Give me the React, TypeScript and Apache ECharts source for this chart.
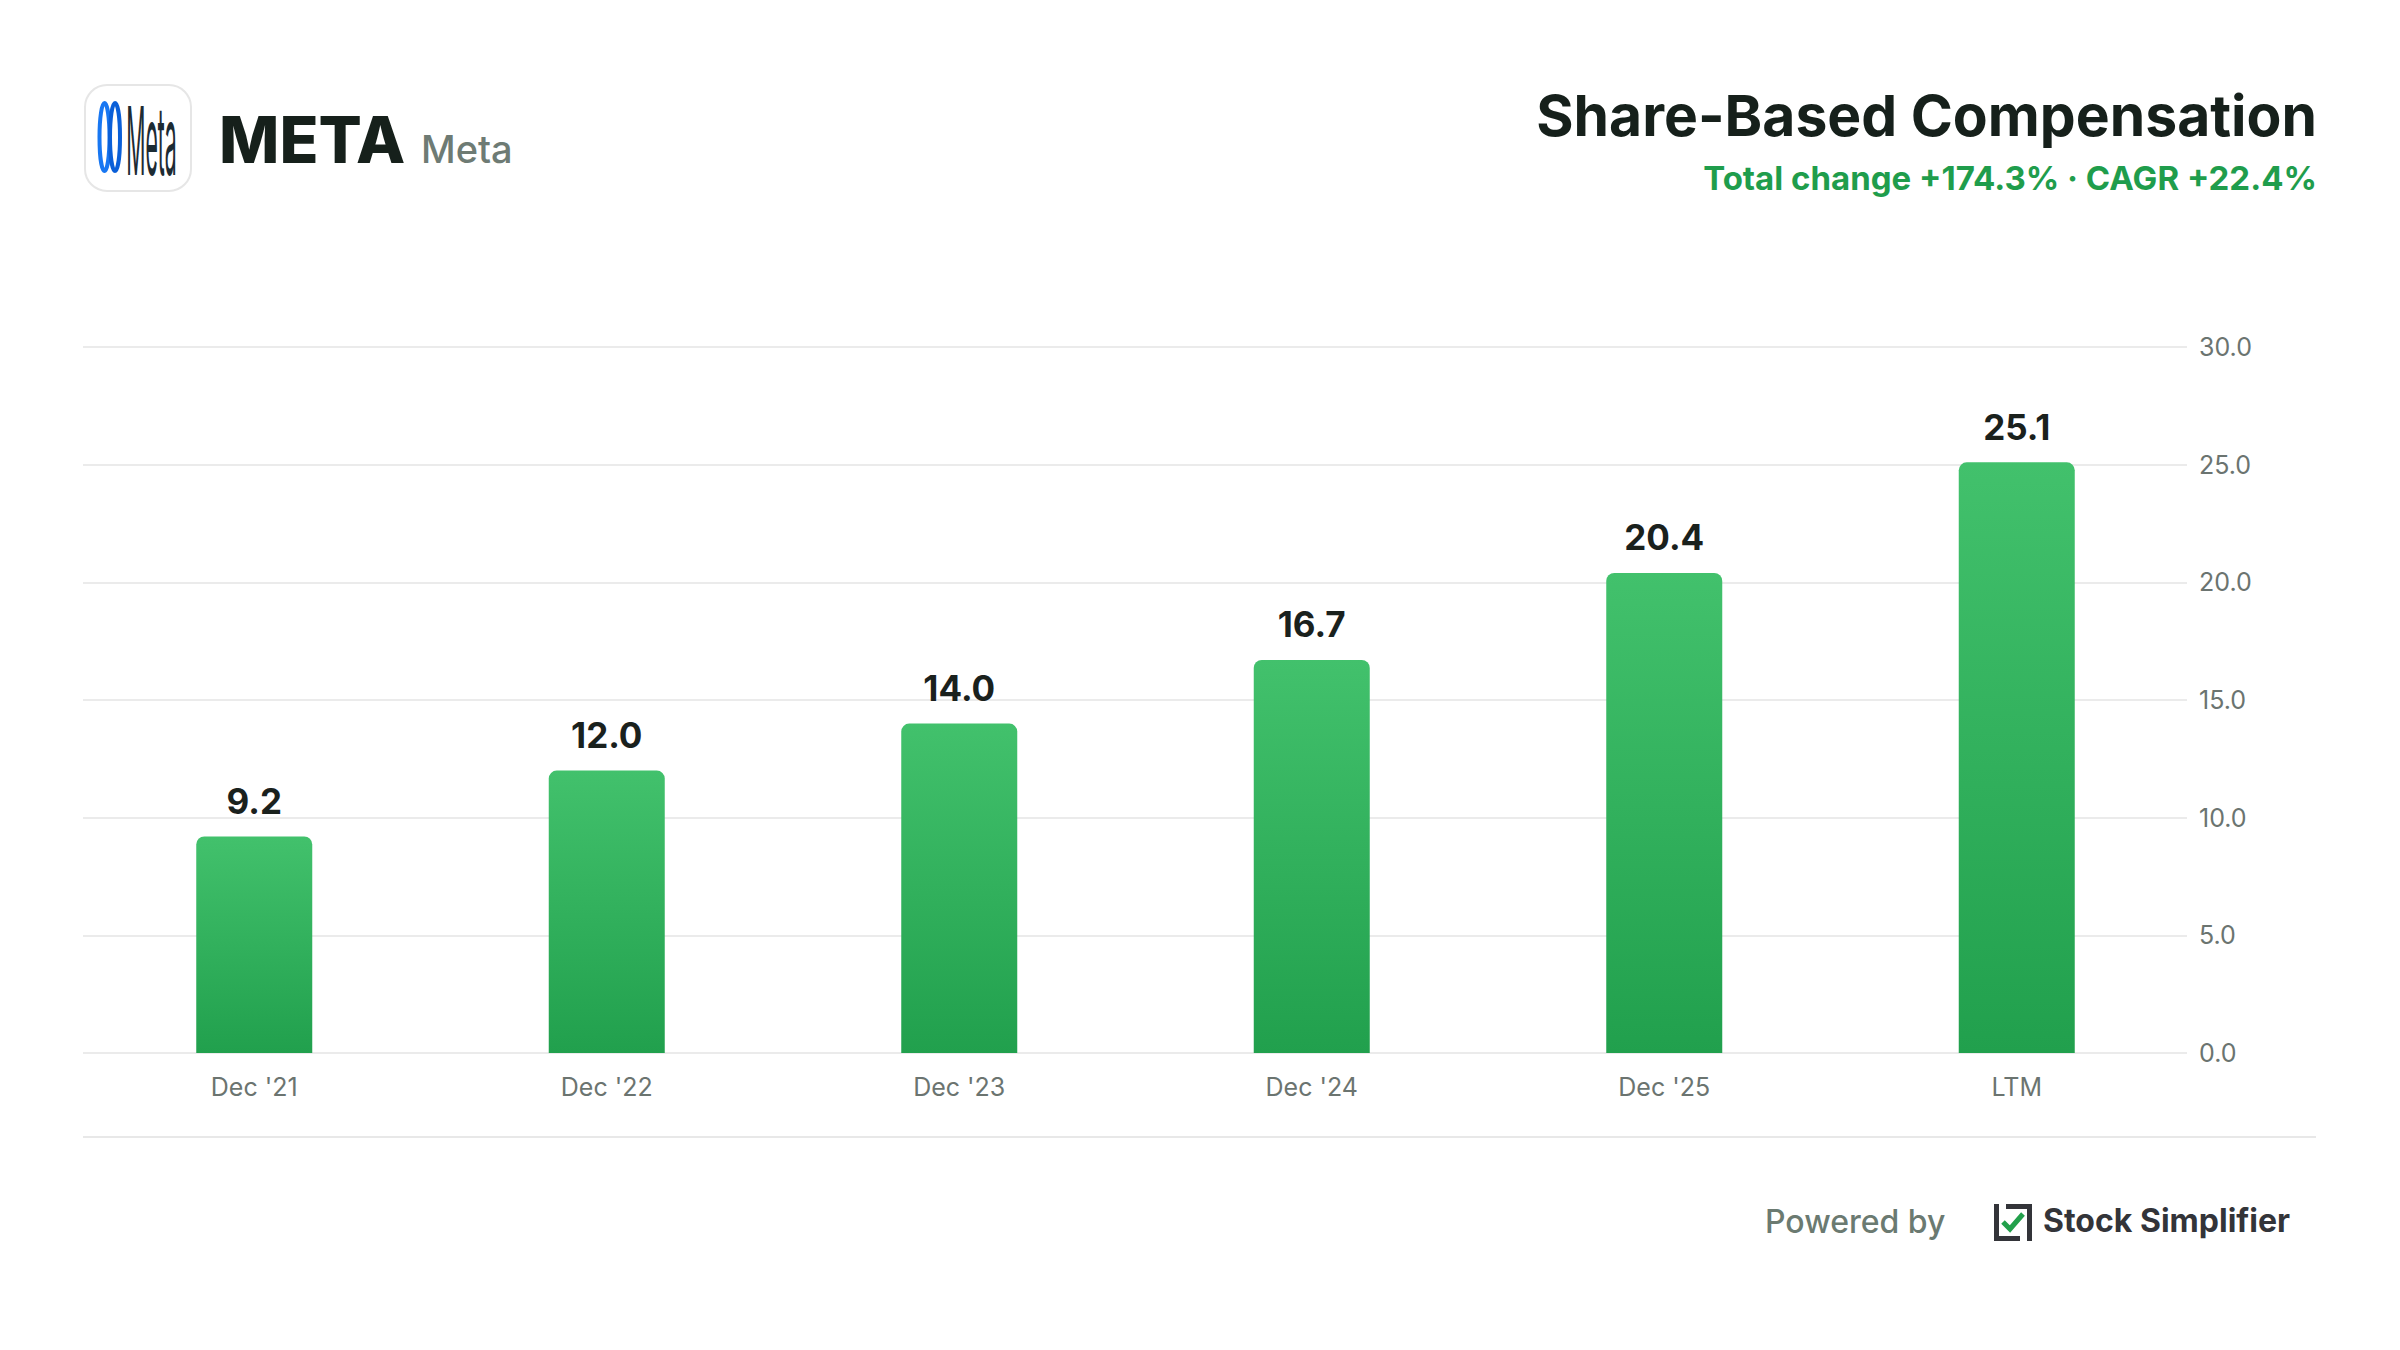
import React, { useEffect, useRef } from "react";
import * as echarts from "echarts";

const categories = ["Dec '21", "Dec '22", "Dec '23", "Dec '24", "Dec '25", "LTM"];
const sbcValues = [9.2, 12.0, 14.0, 16.7, 20.4, 25.1];
const yTicks = { min: 0, max: 30, interval: 5 };
const ticker = "META";
const companyName = "Meta";
const chartTitle = "Share-Based Compensation";
const changeText = "Total change +174.3% · CAGR +22.4%";

const FONT = "Inter, 'Noto Sans', sans-serif";

export default function App() {
  const ref = useRef<HTMLDivElement>(null);

  useEffect(() => {
    document.body.style.margin = "0";
    const chart = echarts.init(ref.current!, null, { renderer: "svg" });
    const axisColor = "#6b7470";
    chart.setOption({
      animation: false,
      backgroundColor: "#ffffff",
      grid: [
        { left: 78, right: 207, top: 347, bottom: 297 },
        { left: 83, right: 213, top: 347, bottom: 297 },
      ],
      xAxis: [
        {
          type: "category",
          gridIndex: 0,
          data: categories,
          boundaryGap: true,
          axisLine: { show: false },
          axisTick: { show: false },
          axisLabel: {
            margin: 21,
            fontSize: 25,
            fontFamily: FONT,
            color: axisColor,
          },
        },
        {
          type: "value",
          gridIndex: 1,
          min: 0,
          max: 1,
          show: false,
        },
      ],
      yAxis: [
        {
          type: "value",
          gridIndex: 0,
          min: yTicks.min,
          max: yTicks.max,
          interval: yTicks.interval,
          show: false,
        },
        {
          type: "value",
          gridIndex: 1,
          position: "right",
          min: yTicks.min,
          max: yTicks.max,
          interval: yTicks.interval,
          axisLine: { show: false },
          axisTick: { show: false },
          splitLine: { show: true, lineStyle: { color: "#ebebeb", width: 2 } },
          axisLabel: {
            margin: 12,
            fontSize: 25,
            fontFamily: FONT,
            color: axisColor,
            formatter: (v: number) => v.toFixed(1),
          },
        },
      ],
      series: [
        {
          type: "bar",
          xAxisIndex: 0,
          yAxisIndex: 0,
          data: sbcValues,
          barWidth: 116,
          itemStyle: {
            borderRadius: [8, 8, 0, 0],
            color: new echarts.graphic.LinearGradient(0, 0, 0, 1, [
              { offset: 0, color: "#42c16c" },
              { offset: 1, color: "#21a04d" },
            ]),
          },
          label: {
            show: true,
            position: "top",
            distance: 18,
            fontSize: 35,
            fontWeight: 700,
            fontFamily: FONT,
            color: "#1a211d",
            formatter: (p: any) => Number(p.value).toFixed(1),
          },
        },
      ],
      graphic: [
        {
          type: "rect",
          shape: { x: 85, y: 85, width: 106, height: 106, r: 22 },
          style: { fill: "#ffffff", stroke: "#e6e6e6", lineWidth: 2 },
        },
        {
          type: "ellipse",
          shape: { cx: 104.5, cy: 137, rx: 5, ry: 34 },
          style: { fill: "none", stroke: "#1877f2", lineWidth: 4 },
        },
        {
          type: "ellipse",
          shape: { cx: 115, cy: 137, rx: 5, ry: 34 },
          style: { fill: "none", stroke: "#0a5fd8", lineWidth: 4 },
        },
        {
          type: "text",
          x: 151.5,
          y: 140,
          scaleX: 0.76,
          scaleY: 3.4,
          style: {
            text: "Meta",
            x: 0,
            y: 0,
            fontSize: 28,
            fontWeight: 400,
            fontFamily: FONT,
            fill: "#1c2b33",
            textAlign: "center",
            textVerticalAlign: "middle",
          },
        },
        {
          type: "text",
          style: {
            text: ticker,
            x: 219,
            y: 139,
            fontSize: 64,
            fontWeight: 800,
            fontFamily: FONT,
            fill: "#16201b",
            textAlign: "left",
            textVerticalAlign: "middle",
          },
        },
        {
          type: "text",
          style: {
            text: companyName,
            x: 421,
            y: 149,
            fontSize: 38,
            fontWeight: 500,
            fontFamily: FONT,
            fill: "#6e7b74",
            textAlign: "left",
            textVerticalAlign: "middle",
          },
        },
        {
          type: "text",
          style: {
            text: chartTitle,
            x: 2317,
            y: 115,
            fontSize: 57,
            fontWeight: 700,
            fontFamily: FONT,
            fill: "#16201b",
            textAlign: "right",
            textVerticalAlign: "middle",
          },
        },
        {
          type: "text",
          style: {
            text: changeText,
            x: 2317,
            y: 178,
            fontSize: 33,
            fontWeight: 700,
            fontFamily: FONT,
            fill: "#1f9d4c",
            textAlign: "right",
            textVerticalAlign: "middle",
          },
        },
        {
          type: "line",
          shape: { x1: 83, y1: 1137, x2: 2316, y2: 1137 },
          style: { stroke: "#e8e8e8", lineWidth: 2 },
        },
        {
          type: "text",
          style: {
            text: "Powered by",
            x: 1765,
            y: 1221,
            fontSize: 32,
            fontWeight: 500,
            fontFamily: FONT,
            fill: "#6b7a71",
            textAlign: "left",
            textVerticalAlign: "middle",
          },
        },
        {
          type: "polyline",
          shape: { points: [[1996.5, 1204], [1996.5, 1238.5], [2020, 1238.5]] },
          style: { fill: "none", stroke: "#333439", lineWidth: 5 },
        },
        {
          type: "polyline",
          shape: { points: [[2006, 1206.5], [2029.5, 1206.5], [2029.5, 1241]] },
          style: { fill: "none", stroke: "#333439", lineWidth: 5 },
        },
        {
          type: "polyline",
          shape: { points: [[2003, 1222], [2010, 1229], [2023, 1214]] },
          style: { fill: "none", stroke: "#22a04b", lineWidth: 5 },
        },
        {
          type: "text",
          style: {
            text: "Stock Simplifier",
            x: 2043,
            y: 1220,
            fontSize: 32,
            fontWeight: 700,
            fontFamily: FONT,
            fill: "#333439",
            textAlign: "left",
            textVerticalAlign: "middle",
          },
        },
      ],
    });
    return () => chart.dispose();
  }, []);

  return (
    <div
      ref={ref}
      style={{ position: "absolute", left: 0, top: 0, width: 2400, height: 1350 }}
    />
  );
}
